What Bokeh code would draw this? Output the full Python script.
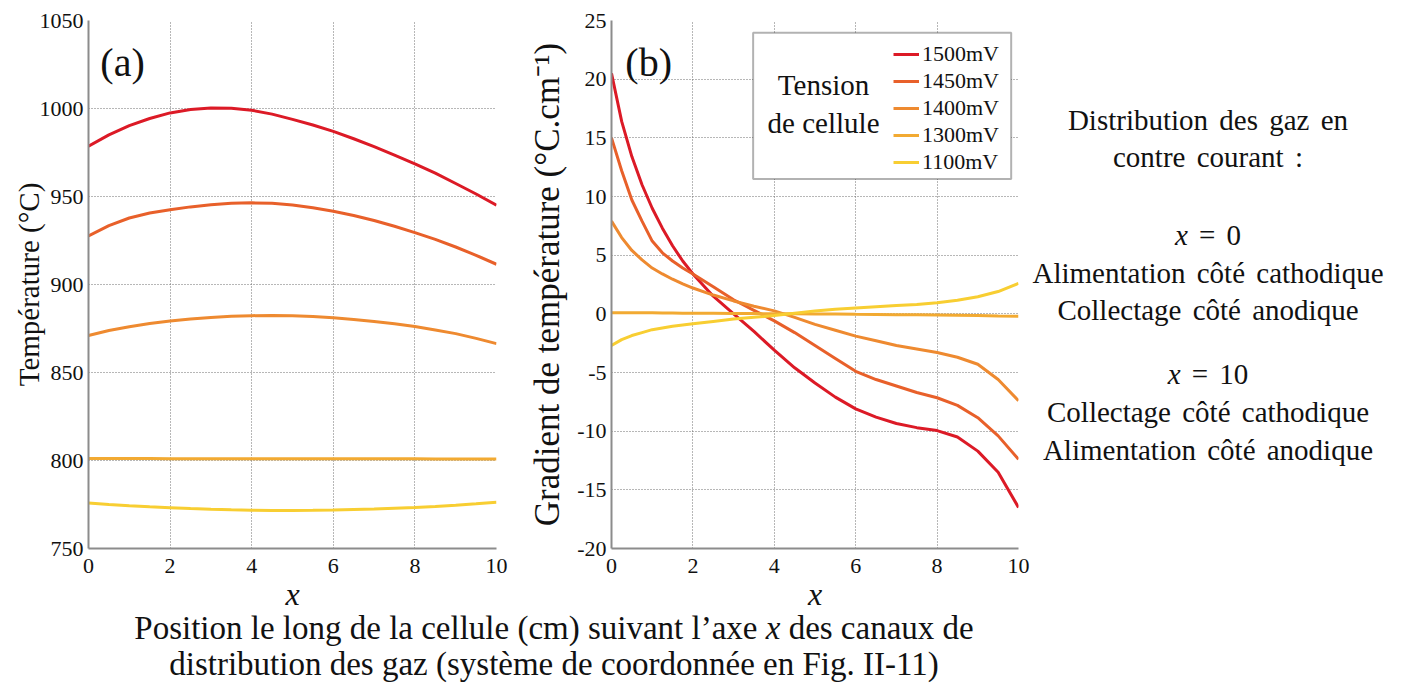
from bokeh.plotting import figure
from bokeh.models import (Legend, LegendItem, Label, BoxAnnotation, Div,
                          FixedTicker, Range1d)
from bokeh.layouts import row, column
from bokeh.embed import file_html
from bokeh.resources import INLINE

SERIF = "Liberation Serif"

# ---------------- data ----------------
series_labels = ["1500mV", "1450mV", "1400mV", "1300mV", "1100mV"]
series_colors = ["#DC1A26", "#E8602A", "#EE8A30", "#F2AA32", "#F8CE32"]

# (a) temperature along the cell
x_a = [0, 0.5, 1, 1.5, 2, 2.5, 3, 3.5, 4, 4.5, 5, 5.5, 6, 6.5, 7, 7.5, 8, 8.5, 9, 9.5, 10]
temp_1500 = [978.6, 985.0, 990.3, 994.3, 997.5, 999.4, 1000.3, 1000.2, 999.0, 996.8, 993.8,
             990.6, 987.0, 982.8, 978.3, 973.5, 968.6, 963.3, 957.4, 951.4, 945.0]
temp_1450 = [927.6, 933.5, 937.8, 940.6, 942.5, 944.1, 945.3, 946.1, 946.4, 946.1, 945.2,
             943.6, 941.6, 939.2, 936.4, 933.1, 929.5, 925.6, 921.3, 916.6, 911.5]
temp_1400 = [871.0, 873.9, 876.0, 877.8, 879.2, 880.4, 881.3, 881.9, 882.3, 882.4, 882.3,
             881.8, 881.1, 880.1, 879.0, 877.7, 876.1, 874.2, 872.1, 869.4, 866.4]
temp_1300 = [801.1, 801.1, 801.1, 801.1, 801.0, 801.0, 801.0, 801.0, 801.0, 801.0, 801.0,
             801.0, 801.0, 801.0, 801.0, 801.0, 801.0, 800.9, 800.9, 800.9, 800.9]
temp_1100 = [775.8, 775.0, 774.3, 773.7, 773.2, 772.7, 772.3, 772.0, 771.8, 771.6, 771.6,
             771.7, 771.9, 772.2, 772.5, 772.9, 773.3, 773.9, 774.6, 775.4, 776.3]

# (b) temperature gradient along the cell
x_b = [0, 0.25, 0.5, 0.75, 1, 1.25, 1.5, 1.75, 2, 2.5, 3, 3.5, 4, 4.5, 5, 5.5, 6, 6.5, 7,
       7.5, 8, 8.5, 9, 9.5, 10]
grad_1500 = [20.5, 16.4, 13.4, 11.0, 9.0, 7.3, 5.8, 4.5, 3.4, 1.5, 0.0, -1.5, -3.1, -4.6,
             -5.9, -7.1, -8.1, -8.8, -9.35, -9.7, -9.95, -10.5, -11.7, -13.5, -16.5]
grad_1450 = [15.0, 12.2, 9.7, 7.9, 6.2, 5.2, 4.5, 3.9, 3.4, 2.3, 1.2, 0.3, -0.6, -1.6,
             -2.7, -3.8, -4.9, -5.6, -6.15, -6.7, -7.15, -7.8, -8.85, -10.4, -12.4]
grad_1400 = [7.9, 6.5, 5.4, 4.6, 3.9, 3.4, 2.95, 2.55, 2.2, 1.6, 1.1, 0.65, 0.25, -0.3,
             -0.9, -1.4, -1.9, -2.3, -2.7, -3.0, -3.3, -3.7, -4.3, -5.6, -7.4]
grad_1300 = [0.1, 0.1, 0.1, 0.1, 0.1, 0.08, 0.07, 0.06, 0.05, 0.04, 0.03, 0.02, 0.01, 0.0,
             -0.01, -0.02, -0.04, -0.05, -0.07, -0.08, -0.1, -0.12, -0.15, -0.18, -0.2]
grad_1100 = [-2.7, -2.2, -1.85, -1.6, -1.35, -1.2, -1.05, -0.95, -0.85, -0.65, -0.45, -0.3,
             -0.15, 0.05, 0.25, 0.4, 0.5, 0.6, 0.7, 0.8, 0.95, 1.15, 1.45, 1.9, 2.6]

x_ticks = [0, 2, 4, 6, 8, 10]
temp_ticks = [750, 800, 850, 900, 950, 1000, 1050]
grad_ticks = [-20, -15, -10, -5, 0, 5, 10, 15, 20, 25]

temps = [temp_1500, temp_1450, temp_1400, temp_1300, temp_1100]
grads = [grad_1500, grad_1450, grad_1400, grad_1300, grad_1100]

LW = 3
FIG_H = 622
BORDER_B = 74


def style(p, yticks, ylabel, ylab_size, ylab_standoff):
    p.xaxis.ticker = FixedTicker(ticks=x_ticks)
    p.yaxis.ticker = FixedTicker(ticks=yticks)
    p.xaxis.major_label_overrides = {t: str(t) for t in x_ticks}
    p.yaxis.major_label_overrides = {t: str(t) for t in yticks}
    p.grid.grid_line_dash = "1 2"
    p.grid.grid_line_color = "#6e6e6e"
    p.grid.grid_line_width = 1
    p.outline_line_color = None
    for ax in (p.xaxis, p.yaxis):
        ax.axis_line_color = "#8c8c8c"
        ax.axis_line_width = 2
        ax.major_tick_in = 0
        ax.major_tick_out = 0
        ax.minor_tick_line_color = None
        ax.major_label_text_font = SERIF
        ax.major_label_text_font_size = "22px"
        ax.major_label_text_color = "#111111"
        ax.axis_label_text_font = SERIF
        ax.axis_label_text_color = "#111111"
    p.xaxis.major_label_standoff = 10
    p.yaxis.major_label_standoff = 5
    p.xaxis.axis_label = "x"
    p.xaxis.axis_label_text_font_style = "italic"
    p.xaxis.axis_label_text_font_size = "32px"
    p.xaxis.axis_label_standoff = 0
    p.yaxis.axis_label = ylabel
    p.yaxis.axis_label_text_font_style = "normal"
    p.yaxis.axis_label_text_font_size = ylab_size
    p.yaxis.axis_label_standoff = ylab_standoff
    p.background_fill_color = "white"
    p.border_fill_color = "white"


def label(x, y, text, size, align="left"):
    return Label(x=x, y=y, text=text, text_font=SERIF, text_font_size=size,
                 text_baseline="middle", text_align=align, text_color="#111111")


# ---------------- panel (a) ----------------
pa = figure(width=524, height=FIG_H, x_range=Range1d(0, 10), y_range=Range1d(750, 1050),
            output_backend="svg", toolbar_location=None,
            min_border_left=88, min_border_right=28, min_border_top=20,
            min_border_bottom=BORDER_B)
style(pa, temp_ticks, "Température (°C)", "29px", -8)
for ys, c in zip(temps, series_colors):
    pa.line(x_a, ys, line_color=c, line_width=LW)
pa.add_layout(label(0.29, 1026, "(a)", "40px"))

# ---------------- panel (b) ----------------
pb = figure(width=506, height=FIG_H, x_range=Range1d(0, 10), y_range=Range1d(-20, 25),
            output_backend="svg", toolbar_location=None,
            min_border_left=87, min_border_right=12, min_border_top=20,
            min_border_bottom=BORDER_B)
style(pb, grad_ticks, "Gradient de température (°C.cm\u207b\u00b9)", "35px", 7)
renderers = []
for ys, c in zip(grads, series_colors):
    renderers.append(pb.line(x_b, ys, line_color=c, line_width=LW))

pb.add_layout(BoxAnnotation(left=3.48, right=9.82, top=23.96, bottom=11.5,
                            fill_color="white", fill_alpha=1.0,
                            line_color="black", line_width=2))
pb.add_layout(label(5.21, 19.5, "Tension", "29px", "center"))
pb.add_layout(label(5.21, 16.3, "de cellule", "29px", "center"))
legend = Legend(items=[LegendItem(label=l, renderers=[r]) for l, r in zip(series_labels, renderers)],
                location=(282, 373))
legend.glyph_width = 26
legend.glyph_height = 22
legend.label_height = 22
legend.label_standoff = 3
legend.spacing = 1
legend.padding = 0
legend.margin = 0
legend.border_line_alpha = 0
legend.background_fill_alpha = 0
legend.label_text_font = SERIF
legend.label_text_font_size = "22px"
legend.label_text_color = "#111111"
pb.add_layout(legend)
pb.add_layout(label(0.34, 21.45, "(b)", "40px"))

# ---------------- side text ----------------
FS = 29
side_lines = [
    (120, "Distribution des gaz en"),
    (157, "contre courant :"),
    (235, "<i>x</i> = 0"),
    (273, "Alimentation côté cathodique"),
    (310, "Collectage côté anodique"),
    (374, "<i>x</i> = 10"),
    (412, "Collectage côté cathodique"),
    (450, "Alimentation côté anodique"),
]
side_html = ('<div style="position:relative;width:356px;height:%dpx;font-family:\'Liberation Serif\';'
             'font-size:%dpx;color:#111;">') % (FIG_H, FS)
for cy, t in side_lines:
    side_html += ('<div style="position:absolute;left:0;width:356px;top:%dpx;line-height:%dpx;'
                  'text-align:center;white-space:nowrap;word-spacing:4px;">%s</div>') % (cy - FS // 2, FS, t)
side_html += "</div>"
side = Div(text=side_html, width=356, height=FIG_H, margin=0)

# ---------------- bottom caption ----------------
BFS = 33
BOT_H = 684 - FIG_H
bottom_lines = [
    (6, "Position le long de la cellule (cm) suivant l\u2019axe <i>x</i> des canaux de"),
    (42, "distribution des gaz (système de coordonnée en Fig. II-11)"),
]
bot_html = ('<div style="position:relative;width:1108px;height:%dpx;overflow:visible;'
            'font-family:\'Liberation Serif\';font-size:%dpx;color:#111;">') % (BOT_H, BFS)
for cy, t in bottom_lines:
    bot_html += ('<div style="position:absolute;left:0;width:1108px;top:%dpx;line-height:%dpx;'
                 'text-align:center;white-space:nowrap;">%s</div>') % (cy - BFS // 2, BFS, t)
bot_html += "</div>"
bottom = Div(text=bot_html, width=1108, height=BOT_H, margin=0)

layout = column(row(pa, pb, side, spacing=0), bottom, spacing=0)
open("out.html", "w").write(file_html(layout, INLINE))
